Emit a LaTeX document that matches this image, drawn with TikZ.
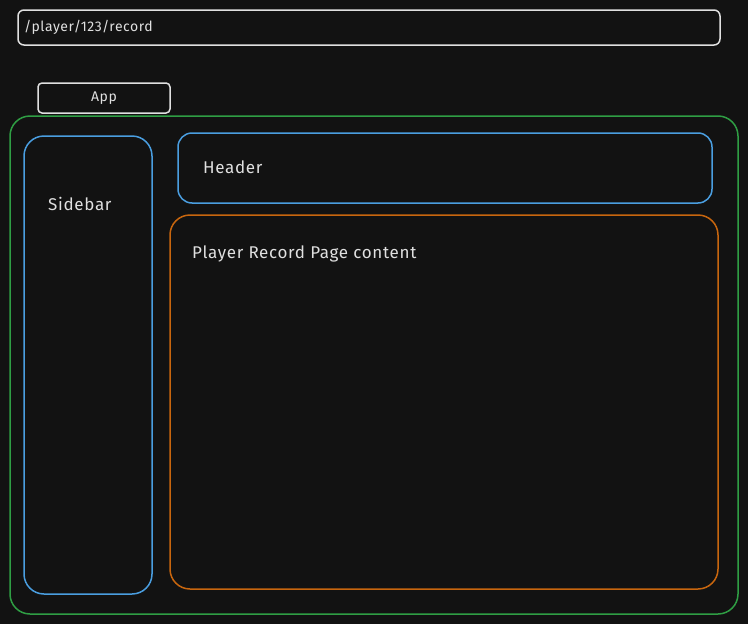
\documentclass[tikz,border=0pt]{standalone}
\usepackage{fontspec}
\setmainfont[LetterSpace=4]{Fira Sans}
\definecolor{bg}{HTML}{121212}
\definecolor{fg}{HTML}{E0E0E0}
\definecolor{grn}{HTML}{2F9E44}
\definecolor{blu}{HTML}{4A9EE0}
\definecolor{org}{HTML}{C8660E}
\tikzset{
  box/.style={draw, line width=1.5pt, rounded corners=#1},
  lbl/.style={text=fg, font=\fontsize{17}{20}\selectfont, inner sep=0pt},
}
\begin{document}
\begin{tikzpicture}[x=1pt,y=-1pt]
\fill[bg] (0,0) rectangle (748,624);
\useasboundingbox (0,0) rectangle (748,624);
\draw[box=6pt, fg] (18,10) rectangle (720,45);
\node[lbl, anchor=west, font=\fontsize{14}{16}\selectfont] (url) at (24,27) {/player/123/record};
\draw[box=4pt, fg] (38,83) rectangle (170,113);
\node[lbl, font=\fontsize{14}{16}\selectfont] (app) at (104,98) {App};
\draw[box=20pt, grn] (10,116) rectangle (738,614);
\draw[box=20pt, blu] (24,136) rectangle (152,594);
\node[lbl, anchor=west] (side) at (48,204) {Sidebar};
\draw[box=14pt, blu] (178,133) rectangle (712,203);
\node[lbl, anchor=west] (head) at (203,167) {Header};
\draw[box=20pt, org] (170,215) rectangle (718,589);
\node[lbl, anchor=west] (content) at (192,254) {Player Record Page content};
\end{tikzpicture}
\end{document}
